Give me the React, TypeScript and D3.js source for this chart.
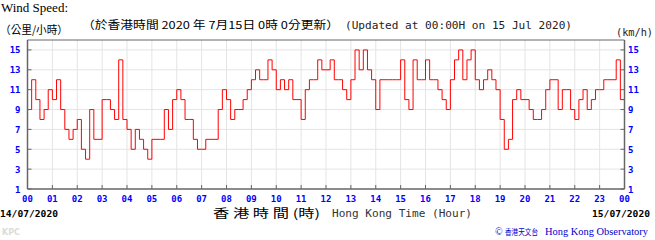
import React from "react";
import * as d3 from "d3";

// 10-minute wind speed readings (km/h), 6 per hour, 00:00 -> 23:50, plus 24:00
const hour00 = [9, 12, 10, 8, 9, 11];
const hour01 = [10, 12, 9, 7, 6, 7];
const hour02 = [8, 5, 4, 9, 6, 6];
const hour03 = [10, 10, 9, 8, 14, 8];
const hour04 = [7, 5, 7, 6, 5, 4];
const hour05 = [6, 6, 6, 9, 7, 10];
const hour06 = [11, 10, 8, 8, 6, 5];
const hour07 = [5, 6, 6, 6, 9, 11];
const hour08 = [10, 8, 9, 9, 10, 11];
const hour09 = [12, 13, 12, 12, 14, 13];
const hour10 = [11, 12, 11, 12, 10, 10];
const hour11 = [8, 11, 12, 12, 14, 13];
const hour12 = [13, 14, 12, 12, 11, 10];
const hour13 = [12, 15, 13, 15, 13, 12];
const hour14 = [9, 12, 12, 12, 12, 12];
const hour15 = [14, 10, 9, 14, 12, 12];
const hour16 = [14, 12, 12, 11, 10, 9];
const hour17 = [12, 14, 15, 12, 14, 15];
const hour18 = [12, 11, 12, 13, 12, 11];
const hour19 = [8, 5, 6, 10, 11, 10];
const hour20 = [10, 9, 8, 8, 9, 11];
const hour21 = [12, 12, 9, 11, 11, 9];
const hour22 = [8, 10, 11, 9, 10, 11];
const hour23 = [11, 12, 12, 12, 14, 10];
const finalValue = 9;

const hourLabels = ["00","01","02","03","04","05","06","07","08","09","10","11","12","13","14","15","16","17","18","19","20","21","22","23","00"];
const yTicks = [1, 3, 5, 7, 9, 11, 13, 15];

const values = [
  ...hour00, ...hour01, ...hour02, ...hour03, ...hour04, ...hour05,
  ...hour06, ...hour07, ...hour08, ...hour09, ...hour10, ...hour11,
  ...hour12, ...hour13, ...hour14, ...hour15, ...hour16, ...hour17,
  ...hour18, ...hour19, ...hour20, ...hour21, ...hour22, ...hour23,
  finalValue,
];

const W = 655, H = 240;
const L = 27.5, R = 624.5, T = 40, B = 189;

export default function App() {
  const x = d3.scaleLinear().domain([0, 24]).range([L, R]);
  const y = d3.scaleLinear().domain([1, 16]).range([B, T]);
  const pts: [number, number][] = values.map((v, i) => [i / 6, v]);
  const line = d3.line<[number, number]>()
    .x(d => x(d[0]))
    .y(d => y(d[1]))
    .curve(d3.curveStepAfter);
  const mono = "'DejaVu Sans Mono', monospace";
  const cjk = "'Noto Sans CJK TC', sans-serif";
  const blue = "#0000ff";
  const gridC = "#e4e4e4";
  const axisC = "#666";
  return (
    <svg width={W} height={H} style={{ position: "absolute", left: 0, top: 0, background: "#fff" }}>
      <text x={1} y={12} fontFamily="'Liberation Serif', serif" fontSize={13} fill="#000">Wind Speed:</text>
      <text x={0} y={34} fontFamily={cjk} fontSize={11} fill="#000" textLength={68} lengthAdjust="spacingAndGlyphs">（公里/小時）</text>
      <text x={82} y={29} fontFamily={cjk} fontSize={11} fill="#000" textLength={257} lengthAdjust="spacingAndGlyphs">（於香港時間 2020 年 7月15日 0時 0分更新）</text>
      <text x={345} y={29} fontFamily={mono} fontSize={11} fill="#222" textLength={227} lengthAdjust="spacingAndGlyphs">(Updated at 00:00H on 15 Jul 2020)</text>
      <text x={616} y={36} fontFamily={mono} fontSize={11} fill="#222" textLength={37} lengthAdjust="spacingAndGlyphs">(km/h)</text>

      {/* grid */}
      {d3.range(1, 24).map(h => (
        <line key={"vg" + h} x1={x(h)} x2={x(h)} y1={T} y2={B} stroke={gridC} strokeWidth={1} />
      ))}
      {yTicks.filter(v => v > 1).map(v => (
        <line key={"hg" + v} x1={L} x2={R} y1={y(v)} y2={y(v)} stroke={gridC} strokeWidth={1} />
      ))}

      {/* data */}
      <path d={line(pts) || ""} fill="none" stroke="#ff0000" strokeWidth={1} />

      {/* frame */}
      <line x1={L} x2={R} y1={T} y2={T} stroke={axisC} strokeWidth={1} />
      <line x1={L} x2={L} y1={T} y2={B} stroke={axisC} strokeWidth={1.5} />
      <line x1={R} x2={R} y1={T} y2={B} stroke={axisC} strokeWidth={1.5} />
      <line x1={L} x2={R} y1={B} y2={B} stroke={axisC} strokeWidth={1.5} />

      {/* y ticks */}
      {yTicks.map(v => (
        <g key={"yt" + v}>
          <line x1={L} x2={L + 4} y1={y(v)} y2={y(v)} stroke={axisC} />
          <line x1={R - 4} x2={R} y1={y(v)} y2={y(v)} stroke={axisC} />
          <text x={20.5} y={y(v) + 3.5} textAnchor="end" fontFamily={mono} fontWeight="bold" fontSize={9} fill={blue}>{v}</text>
          <text x={628} y={y(v) + 3.5} textAnchor="start" fontFamily={mono} fontWeight="bold" fontSize={9} fill={blue}>{v}</text>
        </g>
      ))}

      {/* x ticks */}
      {hourLabels.map((lab, h) => (
        <g key={"xt" + h}>
          <line x1={x(h)} x2={x(h)} y1={B} y2={B - 4} stroke={axisC} />
          <text x={x(h)} y={202} textAnchor="middle" fontFamily={mono} fontWeight="bold" fontSize={9} fill={blue}>{lab}</text>
        </g>
      ))}

      <text x={0} y={217} fontFamily={mono} fontWeight="bold" fontSize={9} fill="#000" textLength={58} lengthAdjust="spacingAndGlyphs">14/07/2020</text>
      <text x={592} y={217} fontFamily={mono} fontWeight="bold" fontSize={9} fill="#000" textLength={58} lengthAdjust="spacingAndGlyphs">15/07/2020</text>
      <text x={213} y={218} fontFamily={cjk} fontSize={12} fill="#000" textLength={107} lengthAdjust="spacingAndGlyphs">香 港 時 間 (時)</text>
      <text x={332} y={217} fontFamily={mono} fontSize={11} fill="#333" textLength={140} lengthAdjust="spacingAndGlyphs">Hong Kong Time (Hour)</text>
      <text x={2} y={235} fontFamily="'DejaVu Sans', sans-serif" fontWeight="bold" fontSize={8} fill="#dcdcdc">KPC</text>
      <text x={495} y={235} fontFamily="'Liberation Serif', serif" fontSize={10} fill="#0000cc">©</text>
      <text x={505} y={235} fontFamily={cjk} fontSize={8.5} fill="#0000cc" textLength={33} lengthAdjust="spacingAndGlyphs">香港天文台</text>
      <text x={545} y={235} fontFamily="'Liberation Serif', serif" fontSize={10} fill="#0000cc" textLength={103} lengthAdjust="spacingAndGlyphs">Hong Kong Observatory</text>
    </svg>
  );
}
